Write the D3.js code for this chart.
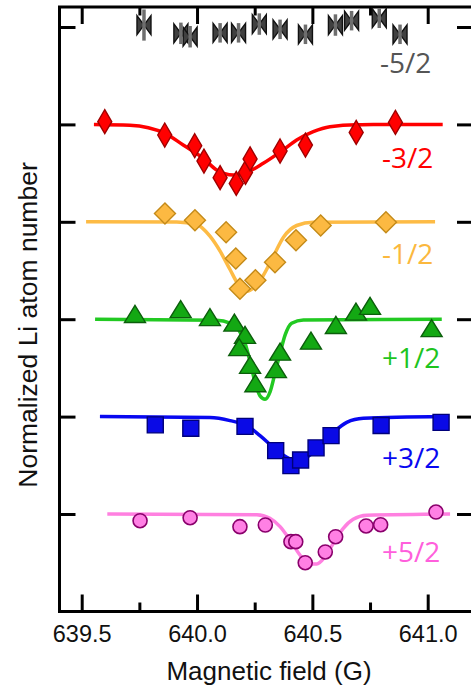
<!DOCTYPE html>
<html>
<head>
<meta charset="utf-8">
<script src="https://cdn.jsdelivr.net/npm/d3@7"></script>
<style>
  html, body { margin: 0; padding: 0; background: #fff; }
  svg { display: block; }
</style>
</head>
<body>
<script>
// ---------- data ----------
const fieldTicks = [639.5, 640.0, 640.5, 641.0];
const fieldMinorTicks = [639.75, 640.25, 640.75];
const levelTicks = [1, 2, 3, 4, 5, 6];
const seriesLabels = ["-5/2", "-3/2", "-1/2", "+1/2", "+3/2", "+5/2"];
const seriesOffsets = [5, 4, 3, 2, 1, 0];

// -5/2 (no fit)
const m52Field = [639.77, 639.93, 639.97, 640.10, 640.18, 640.27, 640.36, 640.47, 640.60, 640.67, 640.79, 640.88];
const m52Value = [1.02, 0.935, 0.90, 0.94, 0.94, 1.03, 0.976, 0.925, 1.02, 1.065, 1.09, 0.925];
const m52Error = [0.16, 0.11, 0.11, 0.10, 0.10, 0.11, 0.10, 0.10, 0.11, 0.10, 0.10, 0.10];

// -3/2
const m32Field = [639.60, 639.86, 639.99, 640.03, 640.10, 640.17, 640.21, 640.23, 640.36, 640.47, 640.69, 640.86];
const m32Value = [1.028, 0.891, 0.781, 0.624, 0.453, 0.394, 0.507, 0.645, 0.727, 0.788, 0.918, 1.02];
const m32FitField = [639.553, 639.709, 639.861, 639.94, 640.027, 640.085, 640.157, 640.215, 640.287, 640.363, 640.432, 640.504, 640.576, 640.692, 641.065];
const m32FitValue = [1.0, 0.992, 0.908, 0.788, 0.651, 0.532, 0.48, 0.507, 0.60, 0.72, 0.84, 0.925, 0.976, 0.997, 1.0];

// -1/2
const m12Field = [639.861, 639.991, 640.126, 640.168, 640.186, 640.253, 640.338, 640.429, 640.536, 640.819];
const m12Value = [1.085, 1.016, 0.893, 0.623, 0.312, 0.40, 0.585, 0.811, 0.962, 0.996];
const m12FitField = [639.519, 639.912, 639.999, 640.056, 640.10, 640.143, 640.179, 640.215, 640.251, 640.287, 640.331, 640.374, 640.432, 640.504, 641.032];
const m12FitValue = [1.0, 0.997, 0.972, 0.852, 0.698, 0.51, 0.356, 0.287, 0.335, 0.449, 0.647, 0.839, 0.962, 0.995, 1.0];

// +1/2
const p12Field = [639.731, 639.929, 640.056, 640.162, 640.208, 640.183, 640.23, 640.253, 640.342, 640.36, 640.494, 640.602, 640.689, 640.75, 641.017];
const p12Value = [1.054, 1.103, 1.021, 0.965, 0.839, 0.713, 0.531, 0.343, 0.487, 0.667, 0.78, 0.941, 1.078, 1.137, 0.908];
const p12FitField = [639.558, 640.085, 640.143, 640.179, 640.208, 640.23, 640.251, 640.273, 640.295, 640.317, 640.338, 640.36, 640.382, 640.41, 640.461, 641.061];
const p12FitValue = [1.0, 0.99, 0.959, 0.897, 0.754, 0.565, 0.359, 0.213, 0.179, 0.257, 0.446, 0.651, 0.839, 0.959, 0.993, 1.0];

// +3/2
const p32Field = [639.819, 639.973, 640.208, 640.341, 640.407, 640.449, 640.516, 640.581, 640.798, 641.058];
const p32Value = [0.915, 0.88, 0.90, 0.651, 0.497, 0.555, 0.679, 0.805, 0.908, 0.941];
const p32FitField = [639.579, 640.056, 640.143, 640.215, 640.273, 640.331, 640.389, 640.432, 640.475, 640.533, 640.591, 640.649, 640.721, 641.068];
const p32FitValue = [1.0, 0.99, 0.959, 0.908, 0.805, 0.685, 0.582, 0.541, 0.582, 0.702, 0.839, 0.941, 0.983, 1.0];

// +5/2
const p52Field = [639.753, 639.97, 640.186, 640.296, 640.407, 640.428, 640.469, 640.556, 640.601, 640.733, 640.796, 641.036];
const p52Value = [0.931, 0.962, 0.87, 0.887, 0.716, 0.716, 0.50, 0.61, 0.767, 0.877, 0.89, 1.02];
const p52FitField = [639.611, 640.259, 640.316, 640.36, 640.403, 640.446, 640.482, 640.519, 640.555, 640.591, 640.634, 640.677, 640.736, 641.097];
const p52FitValue = [1.0, 0.993, 0.956, 0.87, 0.733, 0.579, 0.487, 0.487, 0.562, 0.699, 0.853, 0.946, 0.987, 1.0];

// ---------- layout ----------
const W = 471, H = 687;
const frame = { left: 59.5, top: 7, right: 473, bottom: 611.5 };

const svg = d3.select("body").append("svg").attr("width", W).attr("height", H);

const x = d3.scaleLinear().domain([639.5, 641.0]).range([81.7, 427.7]);
const y = d3.scaleLinear().domain([1, 6]).range([514, 27]);

const tickFont = "'Liberation Sans', Arial, Helvetica, sans-serif";

// bottom axis
const bottomMajor = svg.append("g").attr("transform", `translate(0,${frame.bottom})`)
  .call(d3.axisBottom(x).tickValues(fieldTicks).tickSizeInner(-17).tickSizeOuter(0)
    .tickPadding(13.5).tickFormat(d3.format(".1f")));
const bottomMinor = svg.append("g").attr("transform", `translate(0,${frame.bottom})`)
  .call(d3.axisBottom(x).tickValues(fieldMinorTicks).tickSizeInner(-9).tickSizeOuter(0).tickFormat(""));
// top axis
const topMajor = svg.append("g").attr("transform", `translate(0,${frame.top})`)
  .call(d3.axisTop(x).tickValues(fieldTicks).tickSizeInner(-17).tickSizeOuter(0).tickFormat(""));
const topMinor = svg.append("g").attr("transform", `translate(0,${frame.top})`)
  .call(d3.axisTop(x).tickValues(fieldMinorTicks).tickSizeInner(-8.5).tickSizeOuter(0).tickFormat(""));
// left/right axes
const leftAx = svg.append("g").attr("transform", `translate(${frame.left},0)`)
  .call(d3.axisLeft(y).tickValues(levelTicks).tickSizeInner(-16).tickSizeOuter(0).tickFormat(""));
const rightAx = svg.append("g").attr("transform", `translate(${frame.right},0)`)
  .call(d3.axisRight(y).tickValues(levelTicks).tickSizeInner(-16).tickSizeOuter(0).tickFormat(""));

[bottomMajor, bottomMinor, topMajor, topMinor, leftAx, rightAx].forEach(g => {
  g.select(".domain").remove();
  g.selectAll(".tick line").attr("stroke", "#000").attr("stroke-width", 3);
});
bottomMajor.selectAll(".tick text")
  .attr("font-family", tickFont).attr("font-size", 23.5).attr("fill", "#111");

// frame
svg.append("rect")
  .attr("x", frame.left).attr("y", frame.top)
  .attr("width", frame.right - frame.left).attr("height", frame.bottom - frame.top)
  .attr("fill", "none").attr("stroke", "#000").attr("stroke-width", 3);

// axis titles
svg.append("text").attr("x", 269).attr("y", 680).attr("text-anchor", "middle")
  .attr("font-family", tickFont).attr("font-size", 26).attr("fill", "#111")
  .text("Magnetic field (G)");
svg.append("text").attr("transform", "translate(36.5,325) rotate(-90)").attr("text-anchor", "middle")
  .attr("font-family", tickFont).attr("font-size", 26.5).attr("fill", "#111")
  .text("Normalized Li atom number");

// ---------- marker shapes ----------
const shapes = {
  bowtie: (w, h) => `M${-w/2},${-h/2}L0,0L${-w/2},${h/2}ZM${w/2},${-h/2}L0,0L${w/2},${h/2}Z`,
  diamond: (w, h) => `M0,${-h/2}L${w/2},0L0,${h/2}L${-w/2},0Z`,
  triangle: (w, h) => `M0,${-h/2}L${w/2},${h/2}L${-w/2},${h/2}Z`,
  square: (w, h) => `M${-w/2},${-h/2}h${w}v${h}h${-w}Z`
};

const line = d3.line().x(d => x(d[0])).y(d => y(d[1])).curve(d3.curveMonotoneX);

const series = [
  { field: m52Field, value: m52Value, err: m52Error, shape: "bowtie", w: 14, h: 19, fill: "#404040", stroke: "#111", label: "#555" },
  { field: m32Field, value: m32Value, fitF: m32FitField, fitV: m32FitValue, shape: "diamond", w: 14, h: 24, fill: "#ff0000", stroke: "#a00000", line: "#ff0000", label: "#ff0000" },
  { field: m12Field, value: m12Value, fitF: m12FitField, fitV: m12FitValue, shape: "diamond", w: 21, h: 21, fill: "#fcb942", stroke: "#c48a18", line: "#fdbb45", label: "#fbb83e" },
  { field: p12Field, value: p12Value, fitF: p12FitField, fitV: p12FitValue, shape: "triangle", w: 21, h: 17, fill: "#13a813", stroke: "#0b5e0b", line: "#22c922", label: "#1ec41e" },
  { field: p32Field, value: p32Value, fitF: p32FitField, fitV: p32FitValue, shape: "square", w: 16, h: 16, fill: "#0a0ae6", stroke: "#00007a", line: "#0808f0", label: "#0808f0" },
  { field: p52Field, value: p52Value, fitF: p52FitField, fitV: p52FitValue, shape: "circle", w: 14, h: 14, fill: "#ff80e4", stroke: "#8a006c", line: "#ff80e0", label: "#ff5fdc" }
];
const labelPos = [[380, 73], [382, 168], [382, 264], [382, 368], [382, 468], [382, 561.5]];

series.forEach((s, i) => {
  const off = seriesOffsets[i];
  const g = svg.append("g");
  if (s.fitF) {
    g.append("path")
      .datum(s.fitF.map((f, j) => [f, s.fitV[j] + off]))
      .attr("d", line).attr("fill", "none").attr("stroke", s.line).attr("stroke-width", 3.5);
  }
  const pts = s.field.map((f, j) => ({ f, v: s.value[j] + off, e: s.err ? s.err[j] : 0 }));
  if (s.shape === "circle") {
    g.selectAll("circle").data(pts).join("circle")
      .attr("cx", d => x(d.f)).attr("cy", d => y(d.v)).attr("r", s.w / 2)
      .attr("fill", s.fill).attr("stroke", s.stroke).attr("stroke-width", 1.6);
  } else {
    g.selectAll("path.mk").data(pts).join("path").attr("class", "mk")
      .attr("transform", d => `translate(${x(d.f)},${y(d.v)})`)
      .attr("d", shapes[s.shape](s.w, s.h))
      .attr("fill", s.fill).attr("stroke", s.stroke).attr("stroke-width", 1.4)
      .attr("stroke-linejoin", "miter");
  }
  if (s.err) {
    g.selectAll("line.err").data(pts).join("line").attr("class", "err")
      .attr("x1", d => x(d.f)).attr("x2", d => x(d.f))
      .attr("y1", d => y(d.v - d.e)).attr("y2", d => y(d.v + d.e))
      .attr("stroke", "#6e6e6e").attr("stroke-width", 3.5);
  }
  svg.append("text").attr("x", labelPos[i][0]).attr("y", labelPos[i][1])
    .attr("font-family", "'Open Sans', 'Liberation Sans', sans-serif").attr("font-weight", 400)
    .attr("font-size", 28).attr("fill", s.label).text(seriesLabels[i]);
});
</script>
</body>
</html>
